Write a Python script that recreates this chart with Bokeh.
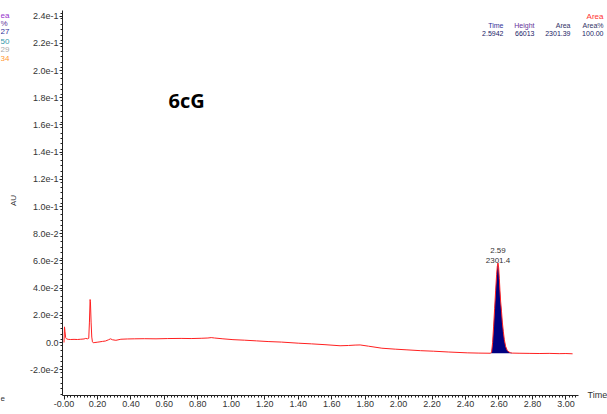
import numpy as np
from bokeh.plotting import figure
from bokeh.models import Label, FixedTicker, ColumnDataSource
from bokeh.core.properties import value
from bokeh.embed import file_html
from bokeh.resources import INLINE

# ---------------- data ----------------
time_min = [0.000, 0.003, 0.006, 0.010, 0.015, 0.025, 0.040, 0.060, 0.080, 0.100,
            0.120, 0.130, 0.140, 0.148, 0.152, 0.156, 0.158, 0.162, 0.166, 0.170,
            0.175, 0.185, 0.198, 0.215, 0.230, 0.248, 0.266, 0.278, 0.290, 0.310,
            0.340, 0.380, 0.420, 0.480, 0.550, 0.620, 0.700, 0.760, 0.820, 0.860,
            0.880, 0.900, 0.950, 1.010, 1.080, 1.150, 1.220, 1.300, 1.400, 1.480,
            1.560, 1.650, 1.700, 1.740, 1.770, 1.820, 1.900, 1.980, 2.050, 2.130,
            2.210, 2.300, 2.410, 2.480, 2.550, 2.556, 2.562, 2.568, 2.574, 2.580,
            2.586, 2.590, 2.594, 2.598, 2.602, 2.606, 2.610, 2.615, 2.620, 2.626,
            2.632, 2.640, 2.650, 2.660, 2.670, 2.680, 2.720, 2.780, 2.840, 2.900,
            2.960, 3.000, 3.040]
au = [0.0000, 0.0115, 0.0080, 0.0035, 0.0027, 0.0023, 0.0022, 0.0023, 0.0022, 0.0024,
      0.0026, 0.0030, 0.0027, 0.0031, 0.0150, 0.0316, 0.0300, 0.0150, 0.0040, 0.0005,
      -0.0002, 0.0000, 0.0002, 0.0005, 0.0008, 0.0011, 0.0020, 0.0027, 0.0020, 0.0016,
      0.0024, 0.0026, 0.0027, 0.0028, 0.0027, 0.0029, 0.0030, 0.0029, 0.0031, 0.0033,
      0.0036, 0.0033, 0.0027, 0.0021, 0.0017, 0.0012, 0.0007, 0.0003, -0.0005, -0.0010,
      -0.0016, -0.0024, -0.0022, -0.0019, -0.0018, -0.0027, -0.0042, -0.0049, -0.0054, -0.0060,
      -0.0064, -0.0070, -0.0076, -0.0078, -0.0079, -0.0070, 0.0000, 0.0120, 0.0250, 0.0380,
      0.0500, 0.0560, 0.0585, 0.0550, 0.0470, 0.0380, 0.0300, 0.0230, 0.0150, 0.0080,
      0.0020, -0.0030, -0.0060, -0.0070, -0.0076, -0.0078, -0.0079, -0.0080, -0.0081, -0.0080,
      -0.0082, -0.0081, -0.0083]

peak_start, peak_end = 2.550, 2.680
peak_rt_label = "2.59"
peak_area_label = "2301.4"

table_headers = ["Time", "Height", "Area", "Area%"]
table_values = ["2.5942", "66013", "2301.39", "100.00"]
table_header_colors = ["#333399", "#663399", "#333366", "#333366"]

x_ticks = [0.0, 0.2, 0.4, 0.6, 0.8, 1.0, 1.2, 1.4, 1.6, 1.8, 2.0, 2.2, 2.4, 2.6, 2.8, 3.0]
x_tick_labels = ["-0.00", "0.20", "0.40", "0.60", "0.80", "1.00", "1.20", "1.40", "1.60",
                 "1.80", "2.00", "2.20", "2.40", "2.60", "2.80", "3.00"]
y_ticks = [-0.02, 0.0, 0.02, 0.04, 0.06, 0.08, 0.10, 0.12, 0.14, 0.16, 0.18, 0.20, 0.22, 0.24]
y_tick_labels = ["-2.0e-2", "0.0", "2.0e-2", "4.0e-2", "6.0e-2", "8.0e-2", "1.0e-1", "1.2e-1",
                 "1.4e-1", "1.6e-1", "1.8e-1", "2.0e-1", "2.2e-1", "2.4e-1"]

left_stub_texts = ["ea", "%", "27", "50", "29", "34"]
left_stub_colors = ["#9933cc", "#663399", "#333399", "#3399aa", "#aaaaaa", "#ff9933"]

# ---------------- layout constants ----------------
W, H = 607, 414
AX_L, AX_R, AX_T, AX_B = 62, 578, 10, 395    # axis extents in page px
X0_PX, XSCALE = 63.5, 167.3                  # page px of t=0, px per minute
Y0_PX, YSCALE = 342.0, 1360.0                # page px of AU=0, px per AU


def px_x(px):
    return (px - X0_PX) / XSCALE


def px_y(py):
    return (Y0_PX - py) / YSCALE


FONT = "Liberation Sans"

p = figure(width=W, height=H, output_backend="svg", toolbar_location=None,
           x_range=(px_x(0), px_x(W)), y_range=(px_y(H), px_y(0)),
           min_border_left=0, min_border_right=0,
           min_border_top=0, min_border_bottom=0)
p.outline_line_color = None
p.xgrid.visible = False
p.ygrid.visible = False
p.background_fill_color = "white"
p.border_fill_color = "white"

# axes drawn inside the canvas at fixed places
p.xaxis.fixed_location = px_y(AX_B)
p.xaxis.bounds = (px_x(AX_L), px_x(AX_R))
p.yaxis.fixed_location = px_x(AX_L)
p.yaxis.bounds = (px_y(AX_B), px_y(AX_T))

p.xaxis.ticker = FixedTicker(ticks=x_ticks,
                             minor_ticks=list(np.round(np.arange(0.0, 3.08, 0.02), 3)))
p.xaxis.major_label_overrides = {t: l for t, l in zip(x_ticks, x_tick_labels)}
p.yaxis.ticker = FixedTicker(ticks=y_ticks,
                             minor_ticks=list(np.round(np.arange(-0.038, 0.2441, 0.004), 4)))
p.yaxis.major_label_overrides = {t: l for t, l in zip(y_ticks, y_tick_labels)}
for ax in (p.xaxis[0], p.yaxis[0]):
    ax.axis_line_color = "#222222"
    ax.major_tick_line_color = "#222222"
    ax.minor_tick_line_color = "#222222"
    ax.major_tick_in = 0
    ax.minor_tick_in = 0
    ax.major_label_text_font = FONT
    ax.major_label_text_font_size = "9px"
    ax.major_label_text_color = "#333333"
p.xaxis.major_tick_out = 4
p.xaxis.minor_tick_out = 2
p.xaxis.major_label_standoff = 1
p.yaxis.major_tick_out = 3
p.yaxis.minor_tick_out = 2
p.yaxis.major_label_standoff = 1

# y axis title
p.add_layout(Label(x=px_x(13), y=px_y(200), text="AU", text_font=FONT,
                   text_font_size="8px", text_color="#333333", angle=np.pi / 2,
                   text_baseline="middle", text_align="center"))

# peak fill
t_arr = np.array(time_min)
a_arr = np.array(au)
mask = (t_arr >= peak_start) & (t_arr <= peak_end)
pk_t = t_arr[mask]
pk_a = a_arr[mask]
base = np.full_like(pk_t, pk_a[0])
p.varea(x=pk_t, y1=base, y2=pk_a, fill_color="#000080")

# chromatogram
p.line(time_min, au, line_color="#ff2020", line_width=1)

# peak labels
i_max = int(np.argmax(a_arr))
src = ColumnDataSource(dict(x=[time_min[i_max]] * 2, y=[au[i_max]] * 2,
                            t=[peak_area_label, peak_rt_label], off=[0, -10]))
p.text(x="x", y="y", text="t", y_offset="off", source=src, text_align="center",
       text_baseline="bottom", text_font=value(FONT), text_font_size="8px",
       text_color="#333333")

# sample title
p.add_layout(Label(x=px_x(168), y=px_y(100), text="6cG", text_font="Open Sans",
                   text_font_size="20px", text_font_style="bold", text_color="black",
                   text_baseline="middle", text_align="left"))

# x axis title at right end
p.add_layout(Label(x=px_x(587), y=px_y(394), text="Time", text_font=FONT,
                   text_font_size="9px", text_color="#333333",
                   text_baseline="middle", text_align="left"))

# results table (top right)
p.add_layout(Label(x=px_x(603), y=px_y(16), text="Area", text_font=FONT,
                   text_font_size="8px", text_color="#ff3333",
                   text_baseline="middle", text_align="right"))
col_right = [503, 534, 570, 603]
for hdr, val, col, xr in zip(table_headers, table_values, table_header_colors, col_right):
    p.add_layout(Label(x=px_x(xr), y=px_y(25), text=hdr, text_font=FONT,
                       text_font_size="7px", text_color=col,
                       text_baseline="middle", text_align="right"))
    p.add_layout(Label(x=px_x(xr), y=px_y(33), text=val, text_font=FONT,
                       text_font_size="7px", text_color="#1a1a66",
                       text_baseline="middle", text_align="right"))

# texts of the neighbouring panel at the far left
stub_y = [15, 23, 31, 41, 49, 58]
for txt, col, yy in zip(left_stub_texts, left_stub_colors, stub_y):
    p.add_layout(Label(x=px_x(0), y=px_y(yy), text=txt, text_font=FONT,
                       text_font_size="8px", text_color=col,
                       text_baseline="middle", text_align="left"))
p.add_layout(Label(x=px_x(0), y=px_y(398), text="e", text_font=FONT,
                   text_font_size="8px", text_color="#333333",
                   text_baseline="middle", text_align="left"))

open("out.html", "w").write(file_html(p, INLINE))
